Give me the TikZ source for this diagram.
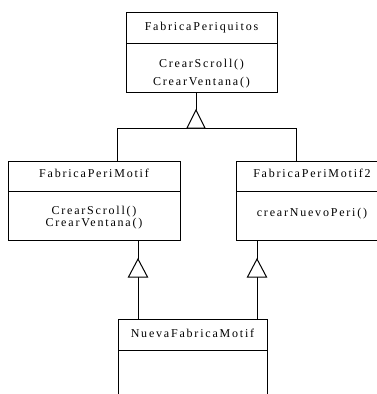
\documentclass[tikz,border=0pt]{standalone}
\usepackage{fontspec}
\setmainfont{Liberation Serif}[LetterSpace=15]
\begin{document}
\begin{tikzpicture}[x=1pt,y=-1pt,
  compart/.style={draw, line width=1pt, rectangle, anchor=north west,
                  outer sep=0pt, inner sep=0pt},
  umltext/.style={anchor=base, inner sep=0pt, font=\fontsize{12}{14}\selectfont},
  link/.style={line width=1pt},
  gen/.style={line width=1pt, fill=white, line join=miter}]
\clip (0,0) rectangle (377,394);

% abstract factory
\node[compart, minimum width=151pt, minimum height=31pt] (Ahead) at (126,12) {};
\node[compart, minimum width=151pt, minimum height=49pt] (Abody) at (126,43) {};
\node[umltext] (Aname) at (201.5,30) {FabricaPeriquitos};
\node[umltext] (Am1) at (201.5,67) {CrearScroll()};
\node[umltext] (Am2) at (201.5,85) {CrearVentana()};

% left subclass
\node[compart, minimum width=172pt, minimum height=30pt] (Bhead) at (8,161) {};
\node[compart, minimum width=172pt, minimum height=49pt] (Bbody) at (8,191) {};
\node[umltext] (Bname) at (94,177.5) {FabricaPeriMotif};
\node[umltext] (Bm1) at (94,214.5) {CrearScroll()};
\node[umltext] (Bm2) at (94,226.7) {CrearVentana()};

% right subclass
\node[compart, minimum width=152pt, minimum height=30pt] (Chead) at (236,161) {};
\node[compart, minimum width=152pt, minimum height=49pt] (Cbody) at (236,191) {};
\node[umltext] (Cname) at (312,177.5) {FabricaPeriMotif2};
\node[umltext] (Cm1) at (312,216) {crearNuevoPeri()};

% concrete factory with two parents
\node[compart, minimum width=149pt, minimum height=31pt] (Dhead) at (118,319) {};
\node[compart, minimum width=149pt, minimum height=90pt] (Dbody) at (118,350) {};
\node[umltext] (Dname) at (192.5,337.5) {NuevaFabricaMotif};

% generalisation: subclasses -> FabricaPeriquitos
\coordinate (tA) at (196,110);
\coordinate (jB) at (117,128);
\coordinate (jC) at (296,128);
\draw[link] (tA |- Abody.south) -- (tA);
\draw[link] (jB |- Bhead.north) -- (jB) -- (jC) -- (jC |- Chead.north);
\draw[gen] (tA) -- ++(-9,18) -- ++(18,0) -- cycle;

% generalisation: NuevaFabricaMotif -> FabricaPeriMotif
\coordinate (tB) at (138,259);
\coordinate (bB) at (138,277);
\draw[link] (tB |- Bbody.south) -- (tB);
\draw[link] (bB) -- (bB |- Dhead.north);
\draw[gen] (tB) -- ++(-9.5,18) -- ++(19,0) -- cycle;

% generalisation: NuevaFabricaMotif -> FabricaPeriMotif2
\coordinate (tC) at (257,259);
\coordinate (bC) at (257,277);
\draw[link] (tC |- Cbody.south) -- (tC);
\draw[link] (bC) -- (bC |- Dhead.north);
\draw[gen] (tC) -- ++(-9.5,18) -- ++(19,0) -- cycle;
\end{tikzpicture}
\end{document}
